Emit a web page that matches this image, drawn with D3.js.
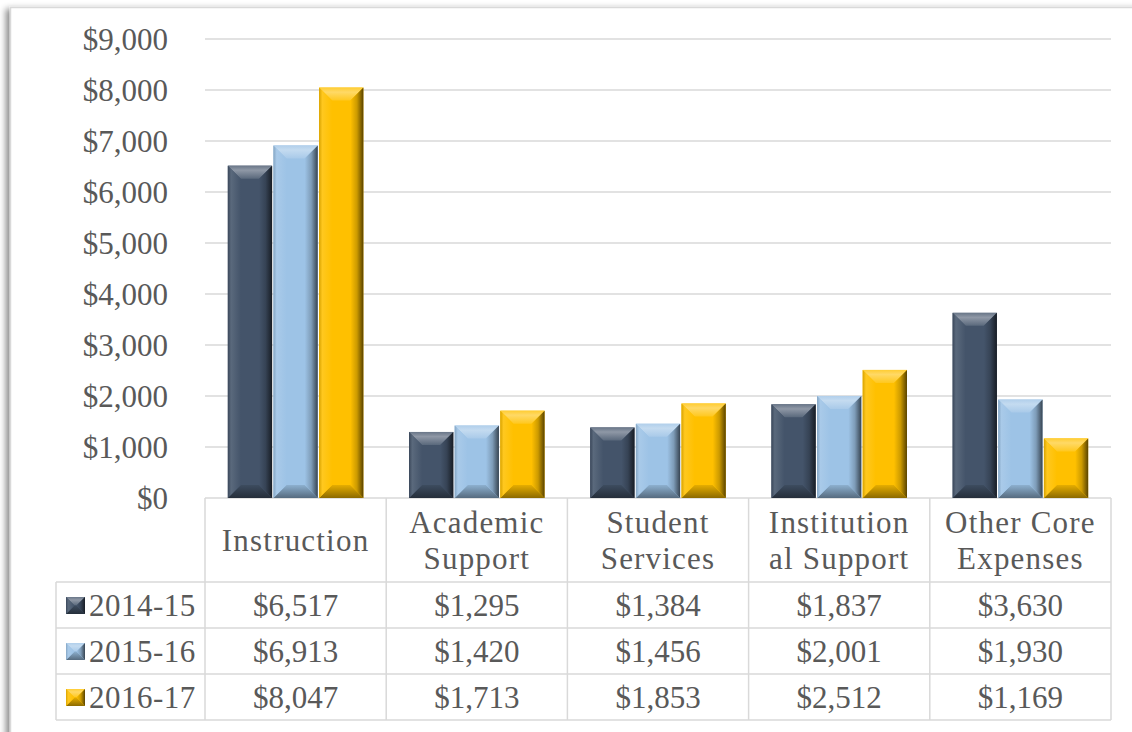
<!DOCTYPE html>
<html>
<head>
<meta charset="utf-8">
<script src="https://cdnjs.cloudflare.com/ajax/libs/d3/7.8.5/d3.min.js"></script>
<style>
    html, body { margin: 0; padding: 0; background: #ffffff; }
    svg { display: block; }
    text { font-family: "Liberation Serif", "Times New Roman", serif; fill: #595959; }
</style>
</head>
<body>
<svg id="chart" width="1132" height="732"></svg>
<script>
// data
var categories = ["Instruction", "Academic Support", "Student Services", "Institutional Support", "Other Core Expenses"];
var categoryLines = [["Instruction"], ["Academic", "Support"], ["Student", "Services"], ["Institution", "al Support"], ["Other Core", "Expenses"]];
var seriesNames = ["2014-15", "2015-16", "2016-17"];
var values2014 = [6517, 1295, 1384, 1837, 3630];
var values2015 = [6913, 1420, 1456, 2001, 1930];
var values2016 = [8047, 1713, 1853, 2512, 1169];
var yTicks = [0, 1000, 2000, 3000, 4000, 5000, 6000, 7000, 8000, 9000];
var seriesColors = ["#44546a", "#9dc3e6", "#ffc000"];

var seriesValues = [values2014, values2015, values2016];

// layout
var _svg = d3.select("#chart");
var _plotLeft = 205;
var _plotRight = 1111;
var _plotTop = 39;
var _plotBottom = 498;
var _headerBottom = 582;
var _rowHeight = 46;
var _rowLabelLeft = 56;
var _gridColor = "#d9d9d9";
var _fontSize = 31;

var fmt = d3.format("$,");

var x0 = d3.scaleBand()
    .domain(categories)
    .range([_plotLeft, _plotRight])
    .padding(0);

var x1 = d3.scaleBand()
    .domain(seriesNames)
    .range([0, x0.bandwidth()])
    .paddingInner(0.03)
    .paddingOuter(0.5);

var y = d3.scaleLinear()
    .domain([0, 9000])
    .range([_plotBottom, _plotTop]);

var defs = _svg.append("defs");

// frame shadow
var shadow = defs.append("filter")
    .attr("id", "frameShadow")
    .attr("x", "-5%").attr("y", "-5%")
    .attr("width", "110%").attr("height", "110%");
shadow.append("feDropShadow")
    .attr("dx", -4).attr("dy", 2)
    .attr("stdDeviation", 3)
    .attr("flood-color", "#000")
    .attr("flood-opacity", 0.45);

_svg.append("rect")
    .attr("x", 10.5)
    .attr("y", 7.5)
    .attr("width", 1200)
    .attr("height", 800)
    .attr("fill", "#ffffff")
    .attr("stroke", _gridColor)
    .attr("stroke-width", 1.5)
    .attr("filter", "url(#frameShadow)");

// gradients for bevel faces
seriesColors.forEach(function(c, i) {
    var light = d3.interpolateRgb(c, "#ffffff");
    var dark = d3.interpolateRgb(c, "#000000");

    var top = defs.append("linearGradient")
        .attr("id", "top" + i)
        .attr("x1", 0).attr("y1", 0).attr("x2", 0).attr("y2", 1);
    top.append("stop").attr("offset", "0%").attr("stop-color", light(0.2));
    top.append("stop").attr("offset", "35%").attr("stop-color", light(0.4));
    top.append("stop").attr("offset", "100%").attr("stop-color", light(0.12));

    var right = defs.append("linearGradient")
        .attr("id", "right" + i)
        .attr("x1", 0).attr("y1", 0).attr("x2", 1).attr("y2", 0);
    right.append("stop").attr("offset", "0%").attr("stop-color", c);
    right.append("stop").attr("offset", "50%").attr("stop-color", dark(0.2));
    right.append("stop").attr("offset", "100%").attr("stop-color", dark(0.65));

    var left = defs.append("linearGradient")
        .attr("id", "left" + i)
        .attr("x1", 0).attr("y1", 0).attr("x2", 1).attr("y2", 0);
    left.append("stop").attr("offset", "0%").attr("stop-color", dark(0.15));
    left.append("stop").attr("offset", "25%").attr("stop-color", light(0.12));
    left.append("stop").attr("offset", "100%").attr("stop-color", c);

    var bottom = defs.append("linearGradient")
        .attr("id", "bottom" + i)
        .attr("x1", 0).attr("y1", 0).attr("x2", 0).attr("y2", 1);
    bottom.append("stop").attr("offset", "0%").attr("stop-color", dark(0.1));
    bottom.append("stop").attr("offset", "100%").attr("stop-color", dark(0.45));
});

var bevelBox = function(g, bx, by, w, h, i, b) {
    var pts = function(arr) {
        return arr.map(function(p) { return p[0] + "," + p[1]; }).join(" ");
    };
    g.append("rect")
        .attr("x", bx).attr("y", by)
        .attr("width", w).attr("height", h)
        .attr("fill", seriesColors[i]);
    g.append("polygon")
        .attr("points", pts([[bx, by], [bx + w, by], [bx + w - b, by + b], [bx + b, by + b]]))
        .attr("fill", "url(#top" + i + ")");
    g.append("polygon")
        .attr("points", pts([[bx, by + h], [bx + w, by + h], [bx + w - b, by + h - b], [bx + b, by + h - b]]))
        .attr("fill", "url(#bottom" + i + ")");
    g.append("polygon")
        .attr("points", pts([[bx, by], [bx + b, by + b], [bx + b, by + h - b], [bx, by + h]]))
        .attr("fill", "url(#left" + i + ")");
    g.append("polygon")
        .attr("points", pts([[bx + w, by], [bx + w - b, by + b], [bx + w - b, by + h - b], [bx + w, by + h]]))
        .attr("fill", "url(#right" + i + ")");
};

// gridlines
_svg.append("g")
    .selectAll("line")
    .data(yTicks)
    .enter()
    .append("line")
        .attr("x1", _plotLeft)
        .attr("x2", _plotRight)
        .attr("y1", function(d) { return y(d); })
        .attr("y2", function(d) { return y(d); })
        .attr("stroke", _gridColor)
        .attr("stroke-width", 1.5);

// y labels
_svg.append("g")
    .selectAll("text")
    .data(yTicks)
    .enter()
    .append("text")
        .attr("x", 168)
        .attr("y", function(d) { return y(d); })
        .attr("dy", ".35em")
        .style("text-anchor", "end")
        .style("font-size", _fontSize + "px")
        .text(function(d) { return fmt(d); });

// bars
var gBars = _svg.append("g").classed("bars", true);
categories.forEach(function(cat, ci) {
    seriesNames.forEach(function(s, si) {
        var v = seriesValues[si][ci];
        var bx = x0(cat) + x1(s);
        var by = y(v);
        var h = _plotBottom - by;
        var w = x1.bandwidth();
        var b = Math.min(13, h / 2, w / 2);
        bevelBox(gBars.append("g"), bx, by, w, h, si, b);
    });
});

// data table
var gTable = _svg.append("g").classed("table", true);
var tableBottom = _headerBottom + seriesNames.length * _rowHeight;

var hLines = [_headerBottom, _headerBottom + _rowHeight, _headerBottom + 2 * _rowHeight, tableBottom];
gTable.selectAll(".hline")
    .data(hLines)
    .enter()
    .append("line")
        .attr("x1", _rowLabelLeft)
        .attr("x2", _plotRight)
        .attr("y1", function(d) { return d; })
        .attr("y2", function(d) { return d; })
        .attr("stroke", _gridColor)
        .attr("stroke-width", 1.5);

var vLines = categories.map(function(c) { return x0(c); }).concat([_plotRight]);
gTable.selectAll(".vline")
    .data(vLines)
    .enter()
    .append("line")
        .attr("x1", function(d) { return d; })
        .attr("x2", function(d) { return d; })
        .attr("y1", _plotBottom)
        .attr("y2", tableBottom)
        .attr("stroke", _gridColor)
        .attr("stroke-width", 1.5);

gTable.append("line")
    .attr("x1", _rowLabelLeft).attr("x2", _rowLabelLeft)
    .attr("y1", _headerBottom).attr("y2", tableBottom)
    .attr("stroke", _gridColor)
    .attr("stroke-width", 1.5);

// category headers (garamond-ish width, so a little letter spacing)
categories.forEach(function(cat, ci) {
    var lines = categoryLines[ci];
    var cx = x0(cat) + x0.bandwidth() / 2;
    var cy = (_plotBottom + _headerBottom) / 2;
    var lh = 36;
    lines.forEach(function(l, li) {
        gTable.append("text")
            .attr("x", cx)
            .attr("y", cy + (li - (lines.length - 1) / 2) * lh)
            .attr("dy", ".35em")
            .style("text-anchor", "middle")
            .style("font-size", _fontSize + "px")
            .style("letter-spacing", "1.2px")
            .text(l);
    });
});

// rows
seriesNames.forEach(function(s, si) {
    var cy = _headerBottom + si * _rowHeight + _rowHeight / 2;
    bevelBox(gTable.append("g"), 66, cy - 8, 19, 17, si, 8.5);
    gTable.append("text")
        .attr("x", 89)
        .attr("y", cy)
        .attr("dy", ".35em")
        .style("font-size", _fontSize + "px")
        .style("letter-spacing", "0.5px")
        .text(s);
    categories.forEach(function(cat, ci) {
        gTable.append("text")
            .attr("x", x0(cat) + x0.bandwidth() / 2)
            .attr("y", cy)
            .attr("dy", ".35em")
            .style("text-anchor", "middle")
            .style("font-size", _fontSize + "px")
            .text(fmt(seriesValues[si][ci]));
    });
});
</script>
</body>
</html>
